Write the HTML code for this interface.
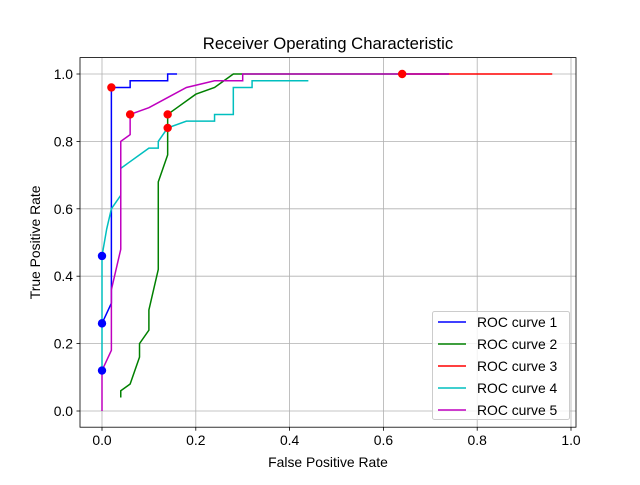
<!DOCTYPE html>
<html><head><meta charset="utf-8"><style>
body{margin:0;background:#fff;}
svg{font-family:"Liberation Sans","DejaVu Sans",sans-serif;}
</style></head><body>
<svg id="c" width="640" height="480" xmlns="http://www.w3.org/2000/svg"></svg>
<script>
const xTicks=[0,0.2,0.4,0.6,0.8,1.0];
const yTicks=[0,0.2,0.4,0.6,0.8,1.0];
const seriesNames=["ROC curve 1","ROC curve 2","ROC curve 3","ROC curve 4","ROC curve 5"];
const seriesColors=["#0000ff","#008000","#ff0000","#00bfbf","#bf00bf"];
const fpr1=[0,0.02,0.02,0.06,0.06,0.14,0.14,0.16];
const tpr1=[0.26,0.32,0.96,0.96,0.98,0.98,1.0,1.0];
const fpr2=[0.04,0.04,0.06,0.08,0.08,0.10,0.10,0.12,0.12,0.14,0.14,0.16,0.20,0.24,0.26,0.28,0.74];
const tpr2=[0.04,0.06,0.08,0.16,0.20,0.24,0.30,0.42,0.68,0.76,0.88,0.90,0.94,0.96,0.98,1.0,1.0];
const fpr3=[0.64,0.96];
const tpr3=[1.0,1.0];
const fpr4=[0,0,0.01,0.02,0.04,0.04,0.08,0.10,0.12,0.12,0.14,0.18,0.24,0.24,0.28,0.28,0.32,0.32,0.44];
const tpr4=[0.12,0.46,0.54,0.60,0.64,0.72,0.76,0.78,0.78,0.80,0.84,0.86,0.86,0.88,0.88,0.96,0.96,0.98,0.98];
const fpr5=[0,0,0.02,0.02,0.04,0.04,0.06,0.06,0.10,0.14,0.18,0.24,0.30,0.30,0.74];
const tpr5=[0,0.12,0.18,0.36,0.48,0.80,0.82,0.88,0.90,0.93,0.96,0.98,0.98,1.0,1.0];
const redX=[0.02,0.06,0.14,0.14,0.64];
const redY=[0.96,0.88,0.88,0.84,1.0];
const blueX=[0,0,0];
const blueY=[0.12,0.26,0.46];

const L=80,R=576,T=57.6,B=427.2;
const sx=v=>102+v*469;
const sy=v=>411-v*337;
const svg=document.getElementById('c');
const NS="http://www.w3.org/2000/svg";
function mk(tag,attrs,parent){const e=document.createElementNS(NS,tag);for(const k in attrs)e.setAttribute(k,attrs[k]);(parent||svg).appendChild(e);return e;}

const grid=mk('g',{});


xTicks.forEach(t=>{
  const l=mk('line',{x1:sx(t),x2:sx(t),y1:T,y2:B,stroke:'#b0b0b0','stroke-width':0.8},grid);
  
  
  const tk=mk('line',{x1:sx(t),x2:sx(t),y1:B,y2:B+3.5,stroke:'#000','stroke-width':0.8});
  
  
  const tx=mk('text',{x:sx(t),y:B+18,'text-anchor':'middle','font-size':13.9});
  tx.textContent=t.toFixed(1);
  
  
});
yTicks.forEach(t=>{
  const l=mk('line',{x1:L,x2:R,y1:sy(t),y2:sy(t),stroke:'#b0b0b0','stroke-width':0.8},grid);
  
  
  const tk=mk('line',{x1:L-3.5,x2:L,y1:sy(t),y2:sy(t),stroke:'#000','stroke-width':0.8});
  
  
  const tx=mk('text',{x:L-7,y:sy(t)+5,'text-anchor':'end','font-size':13.9});
  tx.textContent=t.toFixed(1);
  
  
});

const xs=[fpr1,fpr2,fpr3,fpr4,fpr5], ys=[tpr1,tpr2,tpr3,tpr4,tpr5];
xs.forEach((x,i)=>{
  const p=mk('polyline',{points:x.map((v,j)=>sx(v)+','+sy(ys[i][j])).join(' '),fill:'none',stroke:seriesColors[i],'stroke-width':1.5});
  
  
});
redX.forEach((v,i)=>{
  const c=mk('circle',{cx:sx(v),cy:sy(redY[i]),r:4.2,fill:'#ff0000'});
  
  
});
blueX.forEach((v,i)=>{
  const c=mk('circle',{cx:sx(v),cy:sy(blueY[i]),r:4.2,fill:'#0000ff'});
  
  
});

const frame=mk('rect',{x:L,y:T,width:R-L,height:B-T,fill:'none',stroke:'#000','stroke-width':0.8});



const title=mk('text',{x:(L+R)/2,y:49,'text-anchor':'middle','font-size':16.7});
title.textContent='Receiver Operating Characteristic';


const xl=mk('text',{x:(L+R)/2,y:467,'text-anchor':'middle','font-size':13.9});
xl.textContent='False Positive Rate';


const yl=mk('text',{x:0,y:0,'text-anchor':'middle','font-size':13.9,transform:'translate(40,'+((T+B)/2)+') rotate(-90)'});
yl.textContent='True Positive Rate';



const lg=mk('g',{});


const lr=mk('rect',{x:432.5,y:311.5,width:137,height:108,rx:2,fill:'#fff','fill-opacity':0.8,stroke:'#cccccc','stroke-width':1},lg);


seriesNames.forEach((n,i)=>{
  const y=322+i*22;
  const ln=mk('line',{x1:438,x2:466,y1:y,y2:y,stroke:seriesColors[i],'stroke-width':1.5},lg);
  
  
  const t=mk('text',{x:477,y:y+5,'font-size':13.9},lg);
  t.textContent=n;
  
  
});
</script>
</body></html>
